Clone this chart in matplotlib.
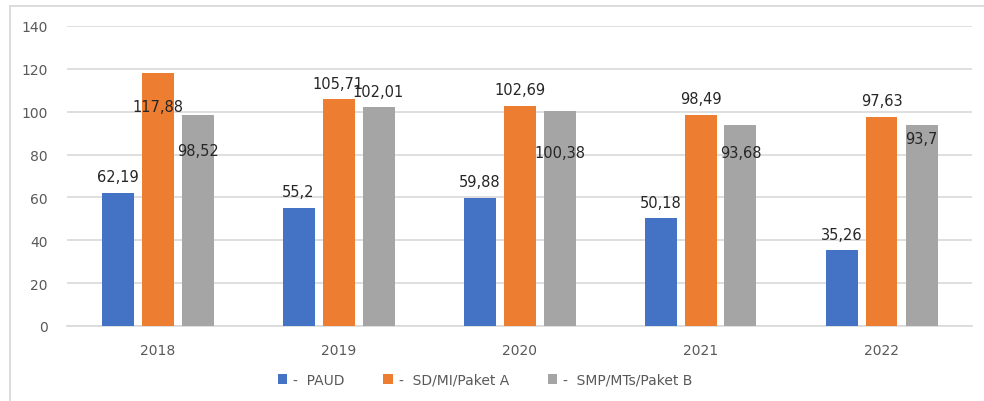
import numpy as np
import matplotlib.pyplot as plt
from matplotlib.lines import Line2D

# --- data ---
years = ["2018", "2019", "2020", "2021", "2022"]
series_names = ["-  PAUD", "-  SD/MI/Paket A", "-  SMP/MTs/Paket B"]
paud = [62.19, 55.2, 59.88, 50.18, 35.26]
sd = [117.88, 105.71, 102.69, 98.49, 97.63]
smp = [98.52, 102.01, 100.38, 93.68, 93.7]

# label heights that Excel pushed inside the bars (None = just above bar)
sd_label_y = [102.2, None, None, None, None]
smp_label_y = [82.1, None, 81.2, 81.2, 87.7]

colors = ["#4472C4", "#ED7D31", "#A5A5A5"]

W, H = 984, 402
fig = plt.figure(figsize=(W / 100, H / 100), dpi=100)
ax = fig.add_axes([67 / W, 1 - 327 / H, (972 - 67) / W, 300 / H])

# outer chart frame (only top and left edges are visible in the crop)
fig.add_artist(Line2D([10 / W, 1], [1 - 7 / H, 1 - 7 / H], transform=fig.transFigure,
                      color="#D9D9D9", linewidth=1.3))
fig.add_artist(Line2D([10 / W, 10 / W], [0, 1 - 7 / H], transform=fig.transFigure,
                      color="#D9D9D9", linewidth=1.3))

x = np.arange(len(years))
bw = 32 / 181
step = 40 / 181
all_vals = [paud, sd, smp]
custom = [[None] * 5, sd_label_y, smp_label_y]

for i, (vals, c, name) in enumerate(zip(all_vals, colors, series_names)):
    pos = x + (i - 1) * step
    ax.bar(pos, vals, width=bw, color=c, label=name, zorder=3)
    for p, v, ly in zip(pos, vals, custom[i]):
        y = v + 7.5 if ly is None else ly
        txt = f"{v:g}".replace(".", ",")
        ax.text(p, y, txt, ha="center", va="center", fontsize=10.5,
                color="#262626", zorder=5)

ax.set_xlim(-0.5, 4.5)
ax.set_ylim(0, 140)
ax.set_yticks(range(0, 141, 20))
ax.set_xticks(x)
ax.set_xticklabels(years)
ax.yaxis.grid(True, color="#D9D9D9", linewidth=1.2, zorder=0)
ax.set_axisbelow(True)
for s in ["top", "right", "left"]:
    ax.spines[s].set_visible(False)
ax.spines["bottom"].set_color("#D9D9D9")
ax.spines["bottom"].set_linewidth(1.2)
ax.tick_params(length=0, labelsize=10, labelcolor="#595959")
ax.tick_params(axis="x", pad=12)
ax.tick_params(axis="y", pad=14)

ax.legend(loc="center", bbox_to_anchor=(485 / W, 1 - 381 / H),
          bbox_transform=fig.transFigure, ncol=3, frameon=False,
          fontsize=10, labelcolor="#595959", handlelength=0.7, handleheight=0.7,
          handletextpad=0.4, columnspacing=2.8)

fig.savefig("out.png", dpi=100)
